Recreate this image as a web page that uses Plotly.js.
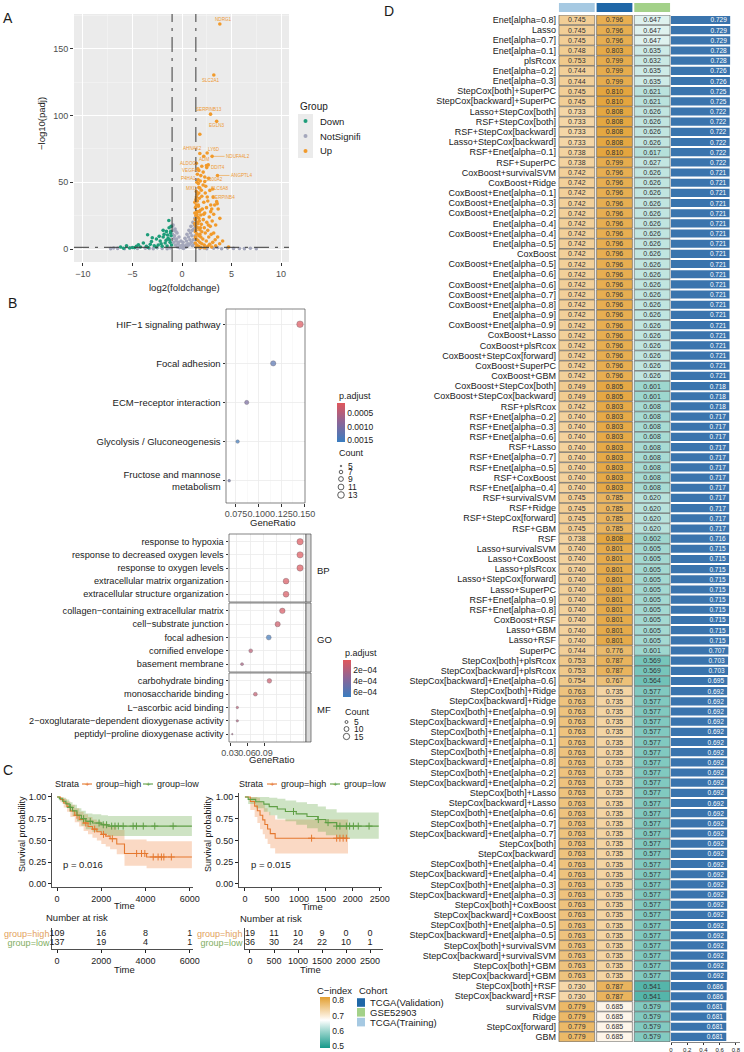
<!DOCTYPE html>
<html>
<head>
<meta charset="utf-8">
<script src="https://cdn.plot.ly/plotly-3.0.1.min.js"></script>
<style>
  html, body { margin: 0; padding: 0; background: #ffffff; }
  #fig { width: 744px; height: 1052px; }
</style>
</head>
<body>
<div id="fig"></div>
<script>
// ---------------- A: volcano plot ----------------
const groupNames = ['Down', 'NotSignifi', 'Up'];
const downLog2FC = [-1.33,-3.47,-1.57,-1.13,-1.9,-2.58,-3.08,-3.9,-4.6,-5.6,-5.0,-1.2,-1.4,-1.6,-2.1,-2.4,-2.8,-3.2,-3.6,-4.2,-4.8,-5.3,-6.2,-1.1,-1.3,-1.8,-2.2,-1.05,-1.5,-2.6,-3.4,-1.7,-2.0,-1.25,-1.15,-3.0,-1.45,-2.3,-1.1,-5.9,-4.4,-1.9];
const downNegLog10Padj = [21.4,10.7,13.2,13.2,9,7.5,5.7,4.5,2,2.5,1.2,5,8,6.5,4,3,2.5,3.5,2,1.5,1,0.8,1.5,10,16,11,6,3,2.2,1.5,1.2,4.5,2,7,12,8.5,10.5,9.5,17,0.6,3.2,14];
const nsLog2FC = [-0.9,-0.7,-0.5,-0.3,-0.1,0.1,0.3,0.5,0.7,0.9,1.1,1.3,1.2,1.0,0.8,0.6,0.4,0.2,0,-0.2,-0.4,-0.6,-0.8,-0.95,-0.85,-0.65,-0.45,-0.25,0.15,0.35,0.55,0.75,0.95,1.15,1.35,1.25,1.05,-0.97,-0.75,-0.55,-0.35,0.05,0.45,0.65,0.85,1.05,1.25,1.35,-0.6,-0.8,
  -7.2,-6.5,-5.8,-4.5,-3.7,-2.9,-2.0,-1.5,1.8,2.5,3.2,4.0,5.2,6.3,7.5,3.6,2.2,-5.2,4.6,5.8,-1.2,-2.5,-3.3,-6.9,6.9];
const nsNegLog10Padj = [18,15,12,9,6,5,8,11,14,17,20,23,15,10,7,4,3,2,1,2.5,4,6,8,11,5,3,1.5,1,0.5,1.2,2,3.5,5,7,10,4,2.5,17,10,7.5,5,3,6,9,12,14,18,16,13,14,
  0.3,0.5,0.2,0.4,0.6,0.3,0.5,0.3,0.4,0.3,0.6,0.2,0.5,0.3,0.2,1.0,0.8,0.9,0.7,0.4,0.8,0.9,0.5,0.8,0.6];
const upLog2FC = [1.8,2.0,2.5,1.6,2.14,1.9,2.7,1.5,2.13,2.4,1.7,1.95,2.35,1.55,3.5,3.55,3.3,2.47,3.65,1.75,
  2.0,1.4,2.6,2.2,3.2,3.82,2.9,2.75,3.05,3.4,2.3,2.05,1.65,1.35,1.5,1.85,1.4,1.6,1.9,2.15,
  2.5,2.85,3.2,3.6,4.1,4.7,1.35,1.55,1.75,1.95,2.25,2.6,2.95,3.35,3.8,1.4,1.6,1.8,2.0,2.35,
  2.7,3.1,1.35,1.5,1.7,1.9,2.1,2.45,2.8,1.4,1.6,1.8,2.0,2.25,1.35,1.5,1.7,1.45,1.9,2.3,
  2.6,3.0,3.4,1.3,1.45,1.7,2.55,2.9,3.0,2.2,2.65,1.3,1.3,1.65,1.85,2.3,1.55,2.65,3.1,1.45,
  1.55,1.65,1.75,1.4,1.5,1.6,1.8,1.35,1.45,1.7,1.85];
const upNegLog10Padj = [86,62,61,60,57.6,55,53,50,48,47,46,44,42,41,35.5,34,33,31,30,38,
  39.5,37,36,35,26,23,28,24,21,18,27,30,33,31,28,29,25,24,25.5,22,
  20,17,12,9,6,1.5,22,20,21,18.5,16,14,11,7,4,17,16,14.5,13,12,
  9,5,13,11.5,10,9,7.5,6,3.5,8,6.5,5,4,3,4.5,3,2,1.5,1.2,1.0,
  2.0,1.5,2.5,35,43,42,39,33,30,26,18,19,27,49,51,54,56,63,45,39,
  36,32,28,14,26,19,11,9,33,23,16];
// labelled up-regulated genes
const labelGenes = ['NDRG1','SLC2A1','SERPINB13','EGLN3','AHNAK2','LY6D','NDUFA4L2','ADM','ALDOC','DDIT4','VEGFA','ANGPTL4','S100A2','P4HA1','SLC6A8','MXI1','SERPINB4'];
const labelLog2FC = [3.82,3.21,2.88,3.5,1.8,2.54,3.04,2.2,1.45,2.47,1.7,3.58,2.3,1.63,2.81,1.8,3.14];
const labelNegLog10Padj = [168.5,130.3,101,95.6,71.5,71.9,69.4,69.5,64.2,62.6,58.9,55.1,50.6,51.9,43.9,45.7,38.9];
const fcCutoffs = [-1, 1.4];
const padjCutoff = 0.05;

// ---------------- B: enrichment dot plots ----------------
const keggTerms = ['HIF\u22121 signaling pathway','Focal adhesion','ECM\u2212receptor interaction','Glycolysis / Gluconeogenesis','Fructose and mannose<br>metabolism'];
const keggGeneRatio = [0.1455, 0.116, 0.0868, 0.0768, 0.0675];
const keggCount = [13, 10, 8, 7, 6];
const keggPadj = [0.00015, 0.0013, 0.0010, 0.00155, 0.0012];

const goOntologies = ['BP', 'GO', 'MF'];
const goTerms = [
  ['response to hypoxia','response to decreased oxygen levels','response to oxygen levels','extracellular matrix organization','extracellular structure organization'],
  ['collagen\u2212containing extracellular matrix','cell\u2212substrate junction','focal adhesion','cornified envelope','basement membrane'],
  ['carbohydrate binding','monosaccharide binding','L\u2212ascorbic acid binding','2\u2212oxoglutarate\u2212dependent dioxygenase activity','peptidyl\u2212proline dioxygenase activity']
];
const goGeneRatio = [
  [0.1535, 0.1535, 0.1535, 0.1288, 0.1288],
  [0.1223, 0.114, 0.0983, 0.0665, 0.0512],
  [0.0994, 0.0747, 0.0429, 0.0429, 0.034]
];
const goCount = [
  [15, 15, 15, 13, 13],
  [12, 11, 10, 7, 5],
  [9, 7, 4, 4, 3]
];
const goPadj = [
  [0.00002, 0.00002, 0.00003, 0.00004, 0.00004],
  [0.00005, 0.00008, 0.00066, 0.00015, 0.00022],
  [0.0001, 0.00012, 0.00015, 0.0002, 0.00024]
];

// ---------------- C: Kaplan-Meier curves ----------------
const kmTrainHighTime  = [0,150,300,450,600,800,1000,1200,1400,1600,1800,2000,2200,2400,2700,3050,4050];
const kmTrainHighSurv  = [1,0.97,0.93,0.89,0.84,0.79,0.74,0.70,0.66,0.63,0.60,0.57,0.55,0.52,0.46,0.35,0.31];
const kmTrainHighLower = [1,0.94,0.88,0.83,0.77,0.71,0.66,0.61,0.57,0.53,0.50,0.46,0.43,0.40,0.34,0.21,0.18];
const kmTrainHighUpper = [1,1,0.98,0.95,0.91,0.87,0.83,0.80,0.77,0.74,0.72,0.70,0.68,0.66,0.62,0.51,0.49];
const kmTrainHighCensor = [900,1300,1700,2100,2500,3600,3820,3970,4350,4570,4720,4830,5170];
const kmTrainLowTime  = [0,100,250,400,550,700,900,1100,1300,1600,2000,2300];
const kmTrainLowSurv  = [1,0.98,0.95,0.92,0.88,0.84,0.79,0.75,0.72,0.70,0.68,0.665];
const kmTrainLowLower = [1,0.96,0.92,0.88,0.83,0.78,0.72,0.67,0.63,0.60,0.57,0.55];
const kmTrainLowUpper = [1,1,0.99,0.97,0.94,0.91,0.87,0.84,0.81,0.80,0.79,0.78];
const kmTrainLowCensor = [600,1200,1500,1900,2090,2240,2470,2620,2770,2990,3440,3590,3900,4420,5250];
const kmTrainFollowUp = [6100, 6100];   // last follow-up: high, low

const kmGseHighTime  = [0,100,180,230,280,330,370,420,470,560];
const kmGseHighSurv  = [1,0.947,0.895,0.842,0.789,0.737,0.684,0.632,0.579,0.526];
const kmGseHighLower = [1,0.85,0.77,0.70,0.63,0.57,0.52,0.46,0.41,0.35];
const kmGseHighUpper = [1,1,1,0.99,0.95,0.91,0.87,0.83,0.79,0.74];
const kmGseHighCensor = [1235,1700,1760,1820,1880];
const kmGseLowTime  = [0,60,200,350,450,600,750,950,1150,1350,1500,1700];
const kmGseLowSurv  = [1,0.972,0.944,0.917,0.889,0.861,0.833,0.806,0.775,0.74,0.705,0.665];
const kmGseLowLower = [1,0.92,0.87,0.83,0.79,0.75,0.72,0.68,0.64,0.60,0.56,0.52];
const kmGseLowUpper = [1,1,1,1,0.99,0.98,0.96,0.94,0.92,0.89,0.86,0.82];
const kmGseLowCensor = [900,1360,1540,1700,1760,1880,1940,2010,2100,2300];
const kmGseFollowUp = [1910, 2480];

const logRankP = [0.016, 0.015];
const riskTimesTrain = [0, 2000, 4000, 6000];
const riskHighTrain = [109, 16, 8, 1];
const riskLowTrain = [137, 19, 4, 1];
const riskTimesGse = [0, 500, 1000, 1500, 2000, 2500];
const riskHighGse = [19, 11, 10, 9, 0, 0];
const riskLowGse = [36, 30, 24, 22, 10, 1];
const strata = ['group=high', 'group=low'];

// ---------------- D: C-index of model combinations ----------------
const models = [
  'Enet[alpha=0.8]','Lasso','Enet[alpha=0.7]','Enet[alpha=0.1]','plsRcox','Enet[alpha=0.2]','Enet[alpha=0.3]',
  'StepCox[both]+SuperPC','StepCox[backward]+SuperPC','Lasso+StepCox[both]','RSF+StepCox[both]','RSF+StepCox[backward]','Lasso+StepCox[backward]','RSF+Enet[alpha=0.1]','RSF+SuperPC',
  'CoxBoost+survivalSVM','CoxBoost+Ridge','CoxBoost+Enet[alpha=0.1]','CoxBoost+Enet[alpha=0.3]','CoxBoost+Enet[alpha=0.2]','Enet[alpha=0.4]','CoxBoost+Enet[alpha=0.4]','Enet[alpha=0.5]','CoxBoost','CoxBoost+Enet[alpha=0.5]','Enet[alpha=0.6]','CoxBoost+Enet[alpha=0.6]','CoxBoost+Enet[alpha=0.7]','CoxBoost+Enet[alpha=0.8]','Enet[alpha=0.9]','CoxBoost+Enet[alpha=0.9]','CoxBoost+Lasso','CoxBoost+plsRcox','CoxBoost+StepCox[forward]','CoxBoost+SuperPC','CoxBoost+GBM',
  'CoxBoost+StepCox[both]','CoxBoost+StepCox[backward]','RSF+plsRcox',
  'RSF+Enet[alpha=0.2]','RSF+Enet[alpha=0.3]','RSF+Enet[alpha=0.6]','RSF+Lasso','RSF+Enet[alpha=0.7]','RSF+Enet[alpha=0.5]','RSF+CoxBoost','RSF+Enet[alpha=0.4]',
  'RSF+survivalSVM','RSF+Ridge','RSF+StepCox[forward]','RSF+GBM','RSF',
  'Lasso+survivalSVM','Lasso+CoxBoost','Lasso+plsRcox','Lasso+StepCox[forward]','Lasso+SuperPC','RSF+Enet[alpha=0.9]','RSF+Enet[alpha=0.8]','CoxBoost+RSF','Lasso+GBM','Lasso+RSF',
  'SuperPC','StepCox[both]+plsRcox','StepCox[backward]+plsRcox','StepCox[backward]+Enet[alpha=0.6]',
  'StepCox[both]+Ridge','StepCox[backward]+Ridge','StepCox[both]+Enet[alpha=0.9]','StepCox[backward]+Enet[alpha=0.9]','StepCox[both]+Enet[alpha=0.1]','StepCox[backward]+Enet[alpha=0.1]','StepCox[both]+Enet[alpha=0.8]','StepCox[backward]+Enet[alpha=0.8]','StepCox[both]+Enet[alpha=0.2]','StepCox[backward]+Enet[alpha=0.2]',
  'StepCox[both]+Lasso','StepCox[backward]+Lasso','StepCox[both]+Enet[alpha=0.6]','StepCox[both]+Enet[alpha=0.7]','StepCox[backward]+Enet[alpha=0.7]','StepCox[both]','StepCox[backward]','StepCox[both]+Enet[alpha=0.4]','StepCox[backward]+Enet[alpha=0.4]','StepCox[both]+Enet[alpha=0.3]','StepCox[backward]+Enet[alpha=0.3]',
  'StepCox[both]+CoxBoost','StepCox[backward]+CoxBoost','StepCox[both]+Enet[alpha=0.5]','StepCox[backward]+Enet[alpha=0.5]','StepCox[both]+survivalSVM','StepCox[backward]+survivalSVM','StepCox[both]+GBM','StepCox[backward]+GBM',
  'StepCox[both]+RSF','StepCox[backward]+RSF','survivalSVM','Ridge','StepCox[forward]','GBM'
];
const cindexTrain = [
  0.745,0.745,0.745,0.748,0.753,0.744,0.744,
  0.745,0.745,0.733,0.733,0.733,0.733,0.738,0.738,
  0.742,0.742,0.742,0.742,0.742,0.742,0.742,0.742,0.742,0.742,0.742,0.742,0.742,0.742,0.742,0.742,0.742,0.742,0.742,0.742,0.742,
  0.749,0.749,0.742,
  0.740,0.740,0.740,0.740,0.740,0.740,0.740,0.740,
  0.745,0.745,0.745,0.745,0.738,
  0.740,0.740,0.740,0.740,0.740,0.740,0.740,0.740,0.740,0.740,
  0.744,0.753,0.753,0.754,
  0.763,0.763,0.763,0.763,0.763,0.763,0.763,0.763,0.763,0.763,
  0.763,0.763,0.763,0.763,0.763,0.763,0.763,0.763,0.763,0.763,0.763,
  0.763,0.763,0.763,0.763,0.763,0.763,0.763,0.763,
  0.730,0.730,0.779,0.779,0.779,0.779
];
const cindexValidation = [
  0.796,0.796,0.796,0.803,0.799,0.799,0.799,
  0.810,0.810,0.808,0.808,0.808,0.808,0.810,0.799,
  0.796,0.796,0.796,0.796,0.796,0.796,0.796,0.796,0.796,0.796,0.796,0.796,0.796,0.796,0.796,0.796,0.796,0.796,0.796,0.796,0.796,
  0.805,0.805,0.803,
  0.803,0.803,0.803,0.803,0.803,0.803,0.803,0.803,
  0.785,0.785,0.785,0.785,0.808,
  0.801,0.801,0.801,0.801,0.801,0.801,0.801,0.801,0.801,0.801,
  0.776,0.787,0.787,0.767,
  0.735,0.735,0.735,0.735,0.735,0.735,0.735,0.735,0.735,0.735,
  0.735,0.735,0.735,0.735,0.735,0.735,0.735,0.735,0.735,0.735,0.735,
  0.735,0.735,0.735,0.735,0.735,0.735,0.735,0.735,
  0.787,0.787,0.685,0.685,0.685,0.685
];
const cindexGSE52903 = [
  0.647,0.647,0.647,0.635,0.632,0.635,0.635,
  0.621,0.621,0.626,0.626,0.626,0.626,0.617,0.627,
  0.626,0.626,0.626,0.626,0.626,0.626,0.626,0.626,0.626,0.626,0.626,0.626,0.626,0.626,0.626,0.626,0.626,0.626,0.626,0.626,0.626,
  0.601,0.601,0.608,
  0.608,0.608,0.608,0.608,0.608,0.608,0.608,0.608,
  0.620,0.620,0.620,0.620,0.602,
  0.605,0.605,0.605,0.605,0.605,0.605,0.605,0.605,0.605,0.605,
  0.601,0.569,0.569,0.564,
  0.577,0.577,0.577,0.577,0.577,0.577,0.577,0.577,0.577,0.577,
  0.577,0.577,0.577,0.577,0.577,0.577,0.577,0.577,0.577,0.577,0.577,
  0.577,0.577,0.577,0.577,0.577,0.577,0.577,0.577,
  0.541,0.541,0.579,0.579,0.579,0.579
];
const cindexMean = [
  0.729,0.729,0.729,0.728,0.728,0.726,0.726,
  0.725,0.725,0.722,0.722,0.722,0.722,0.722,0.722,
  0.721,0.721,0.721,0.721,0.721,0.721,0.721,0.721,0.721,0.721,0.721,0.721,0.721,0.721,0.721,0.721,0.721,0.721,0.721,0.721,0.721,
  0.718,0.718,0.718,
  0.717,0.717,0.717,0.717,0.717,0.717,0.717,0.717,
  0.717,0.717,0.717,0.717,0.716,
  0.715,0.715,0.715,0.715,0.715,0.715,0.715,0.715,0.715,0.715,
  0.707,0.703,0.703,0.695,
  0.692,0.692,0.692,0.692,0.692,0.692,0.692,0.692,0.692,0.692,
  0.692,0.692,0.692,0.692,0.692,0.692,0.692,0.692,0.692,0.692,0.692,
  0.692,0.692,0.692,0.692,0.692,0.692,0.692,0.692,
  0.686,0.686,0.681,0.681,0.681,0.681
];
const cohortNames = ['TCGA(Training)', 'TCGA(Validation)', 'GSE52903'];
const cohortLegendOrder = ['TCGA(Validation)', 'GSE52903', 'TCGA(Training)'];
const cindexTicks = [0.5, 0.6, 0.7, 0.8];

// ================= drawing =================
const W = 744, H = 1052;
const FONT = 'Liberation Sans, Arial, Helvetica, sans-serif';
const INK = '#1a1a1a';
const fx = p => p / W;
const fy = p => 1 - p / H;
const domX = (a, b) => [fx(a), fx(b)];
const domY = (top, bottom) => [fy(bottom), fy(top)];

const traces = [];
const annotations = [];
const shapes = [];

function txt(text, x, y, o) {
  o = o || {};
  annotations.push({
    text: text, x: fx(x), y: fy(y), xref: 'paper', yref: 'paper', showarrow: false,
    xanchor: o.xanchor || 'center', yanchor: o.yanchor || 'middle', textangle: o.angle || 0,
    font: { family: FONT, size: o.size || 9, color: o.color || INK }
  });
}
function rectPx(x0, y0, x1, y1, fill, line) {
  shapes.push({ type: 'rect', xref: 'paper', yref: 'paper', x0: fx(x0), x1: fx(x1), y0: fy(y1), y1: fy(y0),
    fillcolor: fill, line: line || { width: 0 }, layer: 'above' });
}
function dotPx(cx, cy, d, fill, lineColor, lineW) {
  shapes.push({ type: 'circle', xref: 'paper', yref: 'paper', x0: fx(cx - d / 2), x1: fx(cx + d / 2),
    y0: fy(cy + d / 2), y1: fy(cy - d / 2), fillcolor: fill, line: { color: lineColor || fill, width: lineW || 0 }, layer: 'above' });
}
function segPx(x0, y0, x1, y1, color, w) {
  shapes.push({ type: 'line', xref: 'paper', yref: 'paper', x0: fx(x0), x1: fx(x1), y0: fy(y0), y1: fy(y1),
    line: { color: color, width: w || 1 }, layer: 'above' });
}
function frame(xa, ya) {
  shapes.push({ type: 'rect', xref: xa + ' domain', yref: ya + ' domain', x0: 0, x1: 1, y0: 0, y1: 1,
    line: { color: '#4d4d4d', width: 0.7 }, fillcolor: 'rgba(0,0,0,0)', layer: 'above' });
}
// ggplot-like area scaling of point sizes
function dotSize(count, lo, hi, dmin, dmax) {
  const r = Math.max(0, (count - lo) / (hi - lo));
  return Math.sqrt(dmin * dmin + r * (dmax * dmax - dmin * dmin));
}

// ---------- panel letters ----------
txt('A', 8, 18, { size: 14 });
txt('B', 13, 303, { size: 14 });
txt('C', 8, 770, { size: 14 });
txt('D', 389, 11, { size: 14 });

// ---------- A ----------
const groupColors = { Down: '#1f9d7a', NotSignifi: '#a4a7bb', Up: '#f19a2b' };
const volcano = {
  NotSignifi: [nsLog2FC, nsNegLog10Padj],
  Down: [downLog2FC, downNegLog10Padj],
  Up: [upLog2FC.concat(labelLog2FC), upNegLog10Padj.concat(labelNegLog10Padj)]
};
['NotSignifi', 'Down', 'Up'].forEach(g => {
  traces.push({ type: 'scatter', mode: 'markers', xaxis: 'x', yaxis: 'y',
    x: volcano[g][0], y: volcano[g][1], marker: { color: groupColors[g], size: 3.6 },
    hoverinfo: 'skip', showlegend: false, cliponaxis: false });
});
shapes.push({ type: 'rect', xref: 'x domain', yref: 'y domain', x0: 0, x1: 1, y0: 0, y1: 1,
  fillcolor: '#ebebeb', line: { width: 0 }, layer: 'below' });
fcCutoffs.forEach(c => shapes.push({ type: 'line', xref: 'x', yref: 'y domain', x0: c, x1: c, y0: 0, y1: 1,
  line: { color: '#3a3a3a', width: 1, dash: 'longdashdot' }, layer: 'above' }));
shapes.push({ type: 'line', xref: 'x domain', yref: 'y', x0: 0, x1: 1, y0: -Math.log10(padjCutoff), y1: -Math.log10(padjCutoff),
  line: { color: '#3a3a3a', width: 1, dash: 'longdashdot' }, layer: 'above' });
// gene label offsets (px) relative to their points; arrows for the two pulled-out labels
const labelShift = [[4,5],[-3,-5],[-2,5],[0,-4.5],[-7,5],[7,4],[0,0],[0,-3],[-8,0],[12,-2],[-9,0],[0,0],[10,2],[-10,1],[10,2],[-8,0],[10,0]];
const labelArrow = { NDUFA4L2: 26, ANGPTL4: 24 };
labelGenes.forEach((g, i) => {
  const a = { text: g, x: labelLog2FC[i], y: labelNegLog10Padj[i], xref: 'x', yref: 'y',
    font: { family: FONT, size: 4.6, color: '#ee9a35' } };
  if (labelArrow[g]) {
    Object.assign(a, { showarrow: true, arrowhead: 0, arrowwidth: 0.6, arrowcolor: '#ee9a35', ax: labelArrow[g], ay: 0, standoff: 1 });
  } else {
    Object.assign(a, { showarrow: false, xshift: labelShift[i][0], yshift: labelShift[i][1] });
  }
  annotations.push(a);
});
txt('\u2212log10(padj)', 41, 124, { angle: -90, size: 9.5 });
txt('log2(foldchange)', 184, 287, { size: 9.5 });
// group legend
txt('Group', 298, 106, { xanchor: 'left', size: 10 });
rectPx(298, 114, 313, 158, '#ebebeb');
['Down', 'NotSignifi', 'Up'].forEach((g, i) => {
  const yy = 121 + i * 15;
  dotPx(305.5, yy, 4, groupColors[g]);
  txt(g, 318, yy, { xanchor: 'left', size: 9.5 });
});

// ---------- B (KEGG) ----------
const padjScale = [[0, '#3a7dc0'], [0.5, '#8a6698'], [1, '#e0575c']];
traces.push({ type: 'scatter', mode: 'markers', xaxis: 'x2', yaxis: 'y2',
  x: keggGeneRatio, y: keggTerms,
  marker: { size: keggCount.map(c => dotSize(c, 5, 13, 1.5, 6.6)), color: keggPadj.map(p => -p),
    colorscale: padjScale, cmin: -0.00157, cmax: -0.00013, showscale: true,
    line: { color: 'rgba(40,30,40,0.7)', width: 0.5 },
    colorbar: { x: fx(337), xanchor: 'left', y: fy(422.5), yanchor: 'middle', len: 39, lenmode: 'pixels',
      thickness: 8, thicknessmode: 'pixels', outlinewidth: 0, xpad: 0, ypad: 0, ticks: '',
      tickvals: [-0.0015, -0.0010, -0.0005], ticktext: ['0.0015', '0.0010', '0.0005'],
      tickfont: { family: FONT, size: 8.5, color: INK } } },
  hoverinfo: 'skip', showlegend: false, cliponaxis: false });
frame('x2', 'y2');
txt('p.adjust', 337, 396, { xanchor: 'left', size: 9 });
txt('GeneRatio', 272, 522, { size: 9.5 });
txt('Count', 337, 453, { xanchor: 'left', size: 9 });
const keggLegendCounts = [5, 7, 9, 11, 13];
const keggLegendY = [466, 472, 479, 487, 495];
keggLegendCounts.forEach((c, i) => {
  dotPx(341, keggLegendY[i], dotSize(c, 5, 13, 1.5, 6.6), 'rgba(0,0,0,0)', '#333', 0.8);
  txt(String(c), 346, keggLegendY[i], { xanchor: 'left', size: 8.5 });
});

// ---------- B (GO) ----------
const goY = ['y3', 'y4', 'y5'];
goOntologies.forEach((ont, f) => {
  traces.push({ type: 'scatter', mode: 'markers', xaxis: 'x3', yaxis: goY[f],
    x: goGeneRatio[f], y: goTerms[f],
    marker: { size: goCount[f].map(c => dotSize(c, 3, 15, 1.6, 6.3)), color: goPadj[f].map(p => -p),
      colorscale: padjScale, cmin: -0.00069, cmax: -0.000018, showscale: f === 0,
      line: { color: 'rgba(40,30,40,0.7)', width: 0.5 },
      colorbar: { x: fx(343), xanchor: 'left', y: fy(678.5), yanchor: 'middle', len: 37, lenmode: 'pixels',
        thickness: 8, thicknessmode: 'pixels', outlinewidth: 0, xpad: 0, ypad: 0, ticks: '',
        tickvals: [-0.0006, -0.0004, -0.0002], ticktext: ['6e\u221204', '4e\u221204', '2e\u221204'],
        tickfont: { family: FONT, size: 8.5, color: INK } } },
    hoverinfo: 'skip', showlegend: false, cliponaxis: false });
  frame('x3', goY[f]);
});
const facetBox = [[534, 602], [603, 672], [673, 742]];
facetBox.forEach((b, f) => {
  rectPx(306, b[0], 311, b[1], '#d9d9d9', { color: '#4d4d4d', width: 0.7 });
  txt(goOntologies[f], 315, (b[0] + b[1]) / 2 + 2, { xanchor: 'left', size: 9.5 });
});
txt('p.adjust', 343, 653, { xanchor: 'left', size: 9 });
txt('GeneRatio', 271, 759, { size: 9.5 });
txt('Count', 343, 712, { xanchor: 'left', size: 9 });
const goLegendCounts = [5, 10, 15];
const goLegendY = [722, 729, 736.5];
goLegendCounts.forEach((c, i) => {
  dotPx(346.5, goLegendY[i], dotSize(c, 3, 15, 1.6, 6.3), 'rgba(0,0,0,0)', '#333', 0.8);
  txt(String(c), 352, goLegendY[i], { xanchor: 'left', size: 8.5 });
});

// ---------- C: KM ----------
const HIGH = '#e5782f', LOW = '#5f9f45';
const HIGH_FILL = 'rgba(240,140,75,0.33)', LOW_FILL = 'rgba(105,170,75,0.33)';
function stepAt(t, s, x) { let v = s[0]; for (let i = 0; i < t.length; i++) if (t[i] <= x) v = s[i]; return v; }
function kmBand(t, lo, hi, end, fill, xa, ya) {
  const tt = t.concat([end]);
  traces.push({ type: 'scatter', mode: 'lines', xaxis: xa, yaxis: ya, x: tt, y: lo.concat([lo[lo.length - 1]]),
    line: { width: 0, shape: 'hv' }, hoverinfo: 'skip', showlegend: false });
  traces.push({ type: 'scatter', mode: 'lines', xaxis: xa, yaxis: ya, x: tt, y: hi.concat([hi[hi.length - 1]]),
    line: { width: 0, shape: 'hv' }, fill: 'tonexty', fillcolor: fill, hoverinfo: 'skip', showlegend: false });
}
function kmCurve(t, s, end, cens, color, xa, ya) {
  traces.push({ type: 'scatter', mode: 'lines', xaxis: xa, yaxis: ya, x: t.concat([end]), y: s.concat([s[s.length - 1]]),
    line: { color: color, width: 1.1, shape: 'hv' }, hoverinfo: 'skip', showlegend: false });
  traces.push({ type: 'scatter', mode: 'markers', xaxis: xa, yaxis: ya, x: cens, y: cens.map(c => stepAt(t, s, c)),
    marker: { symbol: 'cross-thin', size: 5, color: color, line: { color: color, width: 1 } }, hoverinfo: 'skip', showlegend: false });
}
kmBand(kmTrainHighTime, kmTrainHighLower, kmTrainHighUpper, kmTrainFollowUp[0], HIGH_FILL, 'x4', 'y6');
kmBand(kmTrainLowTime, kmTrainLowLower, kmTrainLowUpper, kmTrainFollowUp[1], LOW_FILL, 'x4', 'y6');
kmCurve(kmTrainHighTime, kmTrainHighSurv, kmTrainFollowUp[0], kmTrainHighCensor, HIGH, 'x4', 'y6');
kmCurve(kmTrainLowTime, kmTrainLowSurv, kmTrainFollowUp[1], kmTrainLowCensor, LOW, 'x4', 'y6');
kmBand(kmGseHighTime, kmGseHighLower, kmGseHighUpper, kmGseFollowUp[0], HIGH_FILL, 'x5', 'y7');
kmBand(kmGseLowTime, kmGseLowLower, kmGseLowUpper, kmGseFollowUp[1], LOW_FILL, 'x5', 'y7');
kmCurve(kmGseHighTime, kmGseHighSurv, kmGseFollowUp[0], kmGseHighCensor, HIGH, 'x5', 'y7');
kmCurve(kmGseLowTime, kmGseLowSurv, kmGseFollowUp[1], kmGseLowCensor, LOW, 'x5', 'y7');

// risk tables
function riskRow(times, counts, row, xa, ya) {
  traces.push({ type: 'scatter', mode: 'text', xaxis: xa, yaxis: ya, x: times, y: counts.map(() => row),
    text: counts.map(String), textposition: 'middle center', textfont: { family: FONT, size: 9, color: INK },
    hoverinfo: 'skip', showlegend: false, cliponaxis: false });
}
riskRow(riskTimesTrain, riskHighTrain, 1, 'x6', 'y8');
riskRow(riskTimesTrain, riskLowTrain, 0, 'x6', 'y8');
riskRow(riskTimesGse, riskHighGse, 1, 'x7', 'y9');
riskRow(riskTimesGse, riskLowGse, 0, 'x7', 'y9');

// strata legends and texts
[[53, 82, 94, 143, 155], [237, 267, 279, 330, 342]].forEach(p => {
  txt('Strata', p[0], 784, { xanchor: 'left', size: 9 });
  segPx(p[1], 784, p[1] + 10, 784, HIGH, 1.1);
  txt('+', p[1] + 5, 784, { size: 8, color: HIGH });
  txt(strata[0], p[2], 784, { xanchor: 'left', size: 9 });
  segPx(p[3], 784, p[3] + 10, 784, LOW, 1.1);
  txt('+', p[3] + 5, 784, { size: 8, color: LOW });
  txt(strata[1], p[4], 784, { xanchor: 'left', size: 9 });
});
txt('p = ' + logRankP[0], 61, 864, { xanchor: 'left', size: 9.5 });
txt('p = ' + logRankP[1], 249, 864, { xanchor: 'left', size: 9.5 });
txt('Survival probability', 22, 834, { angle: -90, size: 9 });
txt('Survival probability', 208, 834, { angle: -90, size: 9 });
txt('Time', 125, 905, { size: 9.5 });
txt('Time', 312, 906, { size: 9.5 });
txt('Number at risk', 44, 917, { xanchor: 'left', size: 9.5 });
txt('Number at risk', 238, 918, { xanchor: 'left', size: 9.5 });
txt('Time', 125, 969, { size: 9.5 });
txt('Time', 310, 969, { size: 9.5 });

// ---------- D ----------
const rowIdx = models.map((_, i) => i);
const cLo = 0.49, cHi = 0.82;
const cStops = [[0.49, '#16998a'], [0.6, '#9dd6ce'], [0.67, '#ffffff'], [0.70, '#fbebd3'], [0.82, '#e29f31']];
const cScale = cStops.map(s => [(s[0] - cLo) / (cHi - cLo), s[1]]);
const cohortColors = { 'TCGA(Training)': '#a6c9e2', 'TCGA(Validation)': '#1f67a7', 'GSE52903': '#a3d189' };
const cohortValues = [cindexTrain, cindexValidation, cindexGSE52903];
cohortNames.forEach((name, k) => {
  const vals = cohortValues[k];
  traces.push({ type: 'bar', orientation: 'h', xaxis: 'x8', yaxis: 'y10',
    y: rowIdx, x: vals.map(() => 0.95), base: k - 0.475, width: 0.94,
    marker: { color: vals, colorscale: cScale, cmin: cLo, cmax: cHi, showscale: k === 0,
      line: { color: '#555555', width: 0.6 },
      colorbar: { x: fx(320), xanchor: 'left', y: fy(1022.5), yanchor: 'middle', len: 51, lenmode: 'pixels',
        thickness: 10, thicknessmode: 'pixels', outlinewidth: 0, xpad: 0, ypad: 0, ticks: '',
        tickvals: cindexTicks, tickfont: { family: FONT, size: 8.5, color: INK } } },
    text: vals.map(v => v.toFixed(3)), textposition: 'inside', insidetextanchor: 'middle', textangle: 0,
    constraintext: 'none', insidetextfont: { family: FONT, size: 7, color: '#333333' },
    hoverinfo: 'skip', showlegend: false });
  traces.push({ type: 'bar', orientation: 'h', xaxis: 'x8', yaxis: 'y11', y: [0], x: [0.95], base: [k - 0.475], width: 1,
    marker: { color: cohortColors[name] }, hoverinfo: 'skip', showlegend: false });
});
traces.push({ type: 'bar', orientation: 'h', xaxis: 'x9', yaxis: 'y10', y: rowIdx, x: cindexMean, width: 0.8,
  marker: { color: '#3a74ad' }, text: cindexMean.map(v => v.toFixed(3)), textposition: 'inside',
  insidetextanchor: 'end', textangle: 0, constraintext: 'none',
  insidetextfont: { family: FONT, size: 6.5, color: '#ffffff' }, hoverinfo: 'skip', showlegend: false });
// C-index / cohort legends
txt('C\u2212index', 315, 990, { xanchor: 'left', size: 9.5 });
txt('Cohort', 357, 990, { xanchor: 'left', size: 9.5 });
cohortLegendOrder.forEach((name, i) => {
  const yy = 1002.5 + i * 9.8;
  rectPx(357, yy - 4.3, 365, yy + 4.3, cohortColors[name]);
  txt(name, 368, yy, { xanchor: 'left', size: 9.5 });
});

// ---------- axes ----------
const tickFont = { family: FONT, size: 9, color: '#4d4d4d' };
const blackTick = { family: FONT, size: 9, color: INK };
const hidden = { visible: false, showgrid: false, zeroline: false, fixedrange: true };
const kmX = { showline: true, linecolor: '#222', linewidth: 0.8, ticks: 'outside', ticklen: 3, tickcolor: '#222',
  tickfont: blackTick, showgrid: false, zeroline: false, tickangle: 0 };

const layout = {
  width: W, height: H, autosize: false, margin: { l: 0, r: 0, t: 0, b: 0 },
  paper_bgcolor: '#ffffff', plot_bgcolor: 'rgba(0,0,0,0)',
  font: { family: FONT, size: 9, color: INK },
  showlegend: false, hovermode: false, barmode: 'overlay',
  // A
  xaxis: { domain: domX(74, 289), range: [-10.9, 10.8], anchor: 'y', tick0: 0, dtick: 5, tickangle: 0,
    gridcolor: '#ffffff', gridwidth: 1, minor: { dtick: 2.5, showgrid: true, gridcolor: '#f7f7f7', gridwidth: 0.5 },
    zeroline: false, ticks: 'outside', ticklen: 3, tickcolor: '#333', tickfont: tickFont },
  yaxis: { domain: domY(14, 262), range: [-9.7, 176], anchor: 'x', tick0: 0, dtick: 50,
    gridcolor: '#ffffff', gridwidth: 1, minor: { dtick: 25, showgrid: true, gridcolor: '#f7f7f7', gridwidth: 0.5 },
    zeroline: false, ticks: 'outside', ticklen: 3, tickcolor: '#333', tickfont: tickFont },
  // B KEGG
  xaxis2: { domain: domX(226, 305), range: [0.064, 0.151], anchor: 'y2', tick0: 0.075, dtick: 0.025, tickformat: '.3f', tickangle: 0,
    gridcolor: '#ebebeb', gridwidth: 0.8, minor: { dtick: 0.0125, tick0: 0.0625, showgrid: true, gridcolor: '#f3f3f3', gridwidth: 0.5 },
    zeroline: false, ticks: 'outside', ticklen: 2.5, tickcolor: '#333', tickfont: tickFont },
  yaxis2: { domain: domY(309, 503), type: 'category', categoryorder: 'array', categoryarray: keggTerms,
    range: [4.57, -0.39], anchor: 'x2', gridcolor: '#ebebeb', gridwidth: 0.8, zeroline: false,
    ticks: 'outside', ticklen: 2.5, tickcolor: '#333', tickfont: { family: FONT, size: 9.5, color: INK } },
  // B GO
  xaxis3: { domain: domX(229, 306), range: [0.0282, 0.164], anchor: 'y5', tickvals: [0.03, 0.06, 0.09], ticktext: ['0.03', '0.06', '0.09'], tickangle: 0,
    showgrid: false, minor: { tick0: 0.042, dtick: 0.0235, showgrid: true, gridcolor: '#ebebeb', gridwidth: 0.8 },
    zeroline: false, ticks: 'outside', ticklen: 2.5, tickcolor: '#333', tickfont: tickFont },
  // C KM
  xaxis4: Object.assign({ domain: domX(52, 193), range: [-230, 6150], anchor: 'y6', tickvals: [0, 2000, 4000, 6000] }, kmX),
  yaxis6: Object.assign({ domain: domY(792.6, 887), range: [-0.035, 1.05], anchor: 'x4', tickvals: [0, 0.25, 0.5, 0.75, 1], tickformat: '.2f' }, kmX),
  xaxis5: Object.assign({ domain: domX(239, 382), range: [-110, 2540], anchor: 'y7', tickvals: [0, 500, 1000, 1500, 2000, 2500] }, kmX),
  yaxis7: Object.assign({ domain: domY(792.6, 887), range: [-0.035, 1.05], anchor: 'x5', tickvals: [0, 0.25, 0.5, 0.75, 1], tickformat: '.2f' }, kmX),
  xaxis6: Object.assign({ domain: domX(52, 193), range: [-230, 6150], anchor: 'y8', tickvals: riskTimesTrain }, kmX),
  yaxis8: Object.assign({}, kmX, { domain: domY(928, 949), range: [-0.65, 1.65], anchor: 'x6', tickvals: [1, 0], ticks: '',
    ticktext: ['<span style="color:#e2a15d">' + strata[0] + '</span>', '<span style="color:#7fae5f">' + strata[1] + '</span>'],
    tickfont: { family: FONT, size: 9 } }),
  xaxis7: Object.assign({ domain: domX(245, 383), range: [-104, 2770], anchor: 'y9', tickvals: riskTimesGse }, kmX),
  yaxis9: Object.assign({}, kmX, { domain: domY(928, 949), range: [-0.65, 1.65], anchor: 'x7', tickvals: [1, 0], ticks: '',
    ticktext: ['<span style="color:#e2a15d">' + strata[0] + '</span>', '<span style="color:#7fae5f">' + strata[1] + '</span>'],
    tickfont: { family: FONT, size: 9 } }),
  // D
  xaxis8: Object.assign({ domain: domX(558, 671), range: [-0.5, 2.5], anchor: 'y10' }, hidden),
  xaxis9: { domain: domX(671, 740), range: [0, 0.85], anchor: 'y10', tickvals: [0, 0.2, 0.4, 0.6, 0.8], ticktext: ['0', '0.2', '0.4', '0.6', '0.8'], tickangle: 0,
    showline: true, linecolor: '#333', linewidth: 0.6, ticks: 'outside', ticklen: 2, tickcolor: '#333',
    tickfont: { family: FONT, size: 6, color: INK }, showgrid: false, zeroline: false },
  yaxis10: { domain: domY(14.9, 1042), range: [100.5, -0.5], anchor: 'x8', tickvals: rowIdx, ticktext: models,
    ticks: '', showgrid: false, zeroline: false, showline: false, ticklabelstandoff: 1,
    tickfont: { family: FONT, size: 9, color: INK } },
  yaxis11: Object.assign({ domain: domY(3, 12), range: [-0.5, 0.5], anchor: 'x8' }, hidden),
  annotations: annotations,
  shapes: shapes
};
const goFacetDomains = [[534, 602], [603, 672], [673, 742]];
goY.forEach((ya, f) => {
  layout['yaxis' + ya.slice(1)] = { domain: domY(goFacetDomains[f][0], goFacetDomains[f][1]), type: 'category',
    categoryorder: 'array', categoryarray: goTerms[f], range: [4.59, -0.59], anchor: 'x3',
    gridcolor: '#ebebeb', gridwidth: 0.8, zeroline: false, ticks: 'outside', ticklen: 2.5, tickcolor: '#333',
    tickfont: { family: FONT, size: 9.2, color: INK } };
});

Plotly.newPlot('fig', traces, layout, { staticPlot: true, displayModeBar: false });
</script>
</body>
</html>
